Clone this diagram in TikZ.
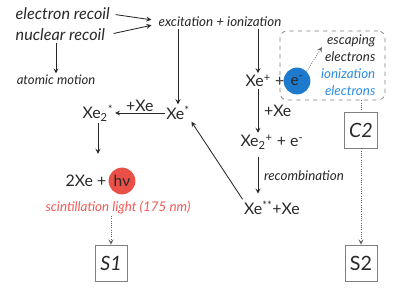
\documentclass[tikz,border=0pt]{standalone}
\usepackage{fontspec}
\setmainfont{Lato}
\usetikzlibrary{arrows}
\definecolor{eblue}{RGB}{30,122,204}
\definecolor{tblue}{RGB}{45,140,225}
\definecolor{pred}{RGB}{232,80,72}
\definecolor{tred}{RGB}{240,90,85}
\definecolor{ink}{RGB}{40,40,40}
\begin{document}
\begin{tikzpicture}[>=stealth, x=0.025cm, y=-0.025cm, ink,
    lbl/.style={inner sep=1pt, font=\fontsize{11.3}{13}\selectfont},
    ilbl/.style={inner sep=1pt, font=\fontsize{9.5}{12}\selectfont\itshape},
    flow/.style={->, line width=0.6pt},
    dots/.style={densely dotted, gray!80!black, line width=0.6pt},
    ball/.style={circle, minimum size=0.67cm, inner sep=0pt, font=\fontsize{11}{13}\selectfont},
    sbox/.style={draw=gray, line width=0.6pt, minimum width=0.8cm, minimum height=0.9cm, font=\fontsize{14}{16}\selectfont}]
    \useasboundingbox (0,0) rectangle (415,300);

    % primary interaction
    \node[ilbl, anchor=west, font=\fontsize{11.5}{13}\selectfont\itshape] (er) at (14,14) {electron recoil};
    \node[ilbl, anchor=west, font=\fontsize{11.5}{13}\selectfont\itshape] (nr) at (14,35) {nuclear recoil};
    \node[ilbl] (exc) at (220,22) {excitation + ionization};
    \node[ilbl, font=\fontsize{9.3}{11}\selectfont\itshape] (am) at (56,80) {atomic motion};
    \draw[flow, shorten <=3pt, shorten >=4pt] (er.east) -- ([yshift=1pt]exc.west);
    \draw[flow, shorten <=5pt, shorten >=4pt] (nr.east) -- ([yshift=-1.5pt]exc.west);
    \draw[flow] (nr.south -| am) -- (am.north);

    % excitation branch
    \node[lbl] (xes) at (178,113) {Xe\textsuperscript{*}};
    \node[lbl] (xe2s) at (98,113) {Xe\textsubscript{2}\textsuperscript{*}};
    \node[lbl] (twoxe) at (86,181) {2Xe +};
    \node[ball, fill=pred] (hv) at (122,181) {hν};
    \node[ilbl, text=tred] (scint) at (118,208) {scintillation light (175 nm)};
    \draw[flow] (exc.south -| xes) -- (xes.north);
    \draw[flow] (xes.west) -- node[lbl, above] {+Xe} (xe2s.east);
    \draw[flow, shorten >=14pt] (xe2s.south) -- (twoxe.north -| xe2s);
    \node[sbox, font=\fontsize{14}{16}\selectfont\itshape] (s1) at (111,263) {S1};
    \draw[dots, ->] (scint.south -| s1) -- (s1.north);

    % ionization branch
    \coordinate (col) at (258,0);
    \node[lbl] (xep) at (265,81) {Xe\textsuperscript{+} +};
    \node[draw=gray, dashed, rounded corners=5pt, line width=0.5pt,
        minimum width=2.625cm, minimum height=1.725cm] (ebox) at (332.5,65.5) {};
    \node[ball, fill=eblue] (e) at (297,81) {e\textsuperscript{-}};
    \node[ilbl, align=right, anchor=east] (esc) at (377,48.5) {escaping\\electrons};
    \node[ilbl, align=right, anchor=east, text=tblue] (ion) at (377,82.5) {ionization\\electrons};
    \draw[dots, ->] (e.north east) -- ([shift={(-1pt,1pt)}]esc.west);
    \node[lbl] (xe2p) at (272,142) {Xe\textsubscript{2}\textsuperscript{+} + e\textsuperscript{-}};
    \node[lbl] (xess) at (272,208) {Xe\textsuperscript{**}+Xe};
    \draw[flow] (exc.south -| col) -- (xep.north -| col);
    \draw[flow] (xep.south -| col) -- node[lbl, right=3pt] {+Xe} (xe2p.north -| col);
    \draw[flow] ([yshift=-4pt]xe2p.south -| col) -- node[ilbl, right=3pt] {recombination} ([yshift=4pt]xess.north -| col);
    \draw[flow] (xess.north west) -- (xes.south east);

    % detector signals
    \node[sbox, font=\fontsize{14}{16}\selectfont\itshape] (c2) at (361,130) {C2};
    \node[sbox] (s2) at (361,263) {S2};
    \draw[dots] (ebox.south -| c2) -- (c2.north);
    \draw[dots, ->] (c2.south) -- (s2.north);
\end{tikzpicture}
\end{document}
